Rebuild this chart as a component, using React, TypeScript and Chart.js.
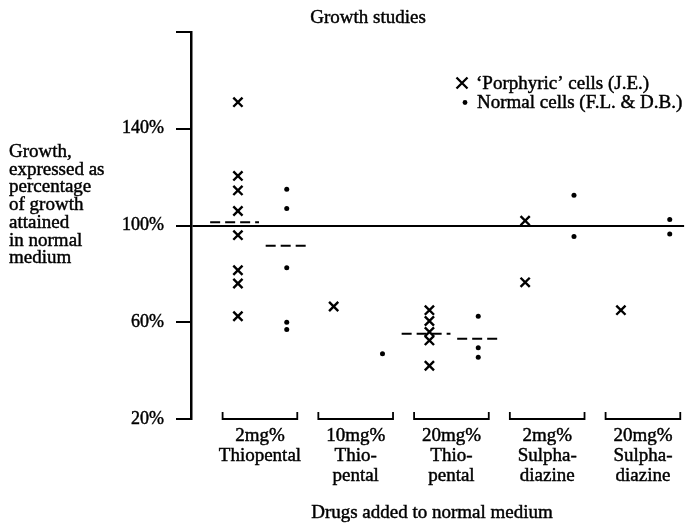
import React, { useEffect, useRef } from 'react';
import { Chart, registerables } from 'chart.js';

Chart.register(...registerables);

// ---- data ----
const groupLine1 = ['2mg%', '10mg%', '20mg%', '2mg%', '20mg%'];
const groupLine2 = ['Thiopental', 'Thio-', 'Thio-', 'Sulpha-', 'Sulpha-'];
const groupLine3 = ['', 'pental', 'pental', 'diazine', 'diazine'];

const porphyricValues: number[][] = [
  [151, 120.5, 114.5, 106, 96, 81.5, 76, 62.5],
  [66.5],
  [65, 60.5, 56, 52.5, 42],
  [102, 76.5],
  [65],
];
const normalValues: number[][] = [
  [115, 107, 82.5, 60, 57],
  [47],
  [62.5, 49.5, 45.5],
  [112.5, 95.5],
  [102.5, 96.5],
];
const porphyricMeans: (number | null)[] = [101.3, null, 55.2, null, null];
const normalMeans: (number | null)[] = [91.6, null, 53.2, null, null];

const yTicks = [20, 60, 100, 140, 180];
const yTickLabels = ['20%', '60%', '100%', '140%', ''];
const referenceValue = 100;

const yTitleLines = ['Growth,', 'expressed as', 'percentage', 'of growth', 'attained', 'in normal', 'medium'];
const seriesLabels = ['\u2018Porphyric\u2019 cells (J.E.)', 'Normal cells (F.L. & D.B.)'];
const chartTitle = 'Growth studies';
const xTitle = 'Drugs added to normal medium';

// ---- layout / style ----
const FONT = '"Liberation Serif", "DejaVu Serif", serif';
const CROSS_OFF = 0.49;
const DOT_OFF = 1.0;
const X_MAX = 5.15;

function text(ctx: CanvasRenderingContext2D, t: string, x: number, y: number) {
  ctx.fillText(t, x, y);
  ctx.strokeText(t, x, y);
}

const overlayPlugin = {
  id: 'overlay',
  afterDraw(chart: any) {
    const { ctx, chartArea, scales } = chart;
    const xs = scales.x;
    ctx.save();
    ctx.fillStyle = '#000';
    ctx.strokeStyle = '#000';

    // title
    ctx.font = `19px ${FONT}`;
    ctx.textAlign = 'center';
    ctx.textBaseline = 'alphabetic';
    ctx.lineWidth = 0.45;
    text(ctx, chartTitle, 368, 23);

    // y title
    ctx.textAlign = 'left';
    yTitleLines.forEach((t, i) => text(ctx, t, 9, 157 + i * 17.7));

    // legend text
    text(ctx, seriesLabels[0], 476, 89);
    text(ctx, seriesLabels[1], 477, 108);

    // legend marks
    const lx = 462;
    ctx.lineWidth = 2.3;
    ctx.beginPath();
    ctx.moveTo(lx - 5.5, 77.5); ctx.lineTo(lx + 5.5, 88.5);
    ctx.moveTo(lx + 5.5, 77.5); ctx.lineTo(lx - 5.5, 88.5);
    ctx.stroke();
    ctx.beginPath();
    ctx.arc(lx + 3, 102.5, 2.4, 0, Math.PI * 2);
    ctx.fill();

    // brackets
    const bottom = chartArea.bottom;
    ctx.lineWidth = 1.8;
    groupLine1.forEach((_, g) => {
      const x0 = xs.getPixelForValue(g + 0.33);
      const x1 = xs.getPixelForValue(g + 1.11);
      ctx.beginPath();
      ctx.moveTo(x0, bottom - 7);
      ctx.lineTo(x0, bottom);
      ctx.lineTo(x1, bottom);
      ctx.lineTo(x1, bottom - 7);
      ctx.stroke();
    });

    // group labels
    ctx.textAlign = 'center';
    ctx.font = `19px ${FONT}`;
    ctx.lineWidth = 0.45;
    groupLine1.forEach((_, g) => {
      const cx = xs.getPixelForValue(g + 0.72);
      text(ctx, groupLine1[g], cx, bottom + 22);
      text(ctx, groupLine2[g], cx, bottom + 42);
      if (groupLine3[g]) text(ctx, groupLine3[g], cx, bottom + 62);
    });

    // x title
    text(ctx, xTitle, 432, 518);
    ctx.restore();
  },
};

export default function App() {
  const ref = useRef<HTMLCanvasElement | null>(null);

  useEffect(() => {
    if (!ref.current) return;
    const porphyricPts = porphyricValues.flatMap((vals, g) => vals.map((v) => ({ x: g + CROSS_OFF, y: v })));
    const normalPts = normalValues.flatMap((vals, g) => vals.map((v) => ({ x: g + DOT_OFF, y: v })));

    const meanSets: any[] = [];
    porphyricMeans.forEach((m, g) => {
      if (m == null) return;
      meanSets.push({
        type: 'line',
        label: 'mean-p' + g,
        data: [
          { x: g + CROSS_OFF - 0.29, y: m },
          { x: g + CROSS_OFF + 0.22, y: m },
        ],
        borderColor: '#000',
        borderWidth: 2,
        borderDash: [10, 5],
        pointRadius: 0,
        showLine: true,
      });
    });
    normalMeans.forEach((m, g) => {
      if (m == null) return;
      meanSets.push({
        type: 'line',
        label: 'mean-n' + g,
        data: [
          { x: g + DOT_OFF - 0.22, y: m },
          { x: g + DOT_OFF + 0.24, y: m },
        ],
        borderColor: '#000',
        borderWidth: 2,
        borderDash: [10, 5],
        pointRadius: 0,
        showLine: true,
      });
    });

    const chart = new Chart(ref.current, {
      type: 'scatter',
      data: {
        datasets: [
          {
            label: seriesLabels[0],
            data: porphyricPts,
            pointStyle: 'crossRot',
            pointRadius: 6.5,
            borderColor: '#000',
            backgroundColor: '#000',
            borderWidth: 2.4,
          },
          {
            label: seriesLabels[1],
            data: normalPts,
            pointStyle: 'circle',
            pointRadius: 2.5,
            borderColor: '#000',
            backgroundColor: '#000',
            borderWidth: 0,
          },
          ...meanSets,
        ],
      },
      options: {
        responsive: false,
        animation: false,
        layout: { padding: { top: 32, bottom: 107, left: 0, right: 0 } },
        plugins: {
          legend: { display: false },
          tooltip: { enabled: false },
          title: { display: false },
        },
        scales: {
          x: {
            type: 'linear',
            min: 0,
            max: X_MAX,
            display: false,
          },
          y: {
            type: 'linear',
            min: 20,
            max: 180,
            afterFit: (s: any) => {
              s.width = 191;
            },
            afterBuildTicks: (s: any) => {
              s.ticks = yTicks.map((v) => ({ value: v }));
            },
            ticks: {
              color: '#000',
              font: { family: FONT, size: 18 },
              padding: 12,
              textStrokeColor: '#000',
              textStrokeWidth: 0.45,
              callback: (v: any) => {
                const i = yTicks.indexOf(Number(v));
                return i >= 0 ? yTickLabels[i] : '';
              },
            },
            grid: {
              drawOnChartArea: true,
              color: (c: any) => (c.tick && c.tick.value === referenceValue ? '#000' : 'rgba(0,0,0,0)'),
              lineWidth: 2,
              tickLength: 15,
              tickColor: '#000',
              tickWidth: 2,
            },
            border: { display: true, color: '#000', width: 2.5 },
          },
        },
      } as any,
      plugins: [overlayPlugin],
    });
    return () => chart.destroy();
  }, []);

  return (
    <div style={{ position: 'absolute', left: 0, top: 0, width: 693, height: 526, background: '#fff' }}>
      <canvas ref={ref} width={693} height={526} style={{ display: 'block' }} />
    </div>
  );
}
